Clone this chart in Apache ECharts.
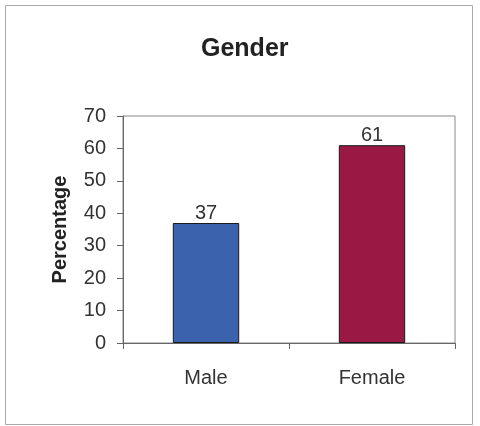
<!DOCTYPE html>
<html>
<head>
<meta charset="utf-8">
<script src="https://cdn.jsdelivr.net/npm/echarts@6/dist/echarts.min.js"></script>
<style>
  html, body { margin: 0; padding: 0; background: #fff; }
  #chart { width: 480px; height: 426px; }
</style>
</head>
<body>
<div id="chart"></div>
<script>
// Share of respondents by gender
const categories = ['Male', 'Female'];
const percentages = [37, 61];
const barColors = ['#3a62ad', '#9a1844'];
const yTicks = [0, 10, 20, 30, 40, 50, 60, 70];

const chart = echarts.init(document.getElementById('chart'), null, { renderer: 'canvas' });

const font = 'Liberation Sans, Arial, sans-serif';

chart.setOption({
  animation: false,
  backgroundColor: '#fff',
  title: {
    text: 'Gender',
    left: 196,
    top: 32,
    textStyle: { fontFamily: font, fontSize: 25, fontWeight: 'bold', color: '#222' }
  },
  graphic: [{
    type: 'rect',
    shape: { x: 5.5, y: 5.5, width: 467, height: 419 },
    style: { fill: 'none', stroke: '#aaa', lineWidth: 1 },
    silent: true,
    z: -1
  }],
  grid: {
    left: 123, top: 116, right: 25, bottom: 83,
    show: true, borderColor: '#888', borderWidth: 1, backgroundColor: 'transparent'
  },
  xAxis: {
    type: 'category',
    data: categories,
    axisLine: { lineStyle: { color: '#666', width: 1 } },
    axisTick: { show: true, length: 6, lineStyle: { color: '#666' } },
    axisLabel: { fontFamily: font, fontSize: 20, color: '#333', margin: 25 }
  },
  yAxis: {
    type: 'value',
    min: yTicks[0],
    max: yTicks[yTicks.length - 1],
    interval: 10,
    name: 'Percentage',
    nameLocation: 'middle',
    nameGap: 53,
    nameTextStyle: { fontFamily: font, fontSize: 20, fontWeight: 'bold', color: '#222' },
    axisLine: { show: true, lineStyle: { color: '#666', width: 1 } },
    axisTick: { show: true, length: 6, lineStyle: { color: '#666' } },
    axisLabel: { fontFamily: font, fontSize: 20, color: '#333', margin: 17 },
    splitLine: { show: false }
  },
  series: [{
    type: 'bar',
    data: percentages.map((v, i) => ({ value: v, itemStyle: { color: barColors[i] } })),
    barWidth: '40%',
    itemStyle: { borderColor: '#1a1a1a', borderWidth: 1 },
    label: {
      show: true,
      position: 'top',
      distance: 0,
      fontFamily: font,
      fontSize: 20,
      color: '#333'
    }
  }]
});
</script>
</body>
</html>
